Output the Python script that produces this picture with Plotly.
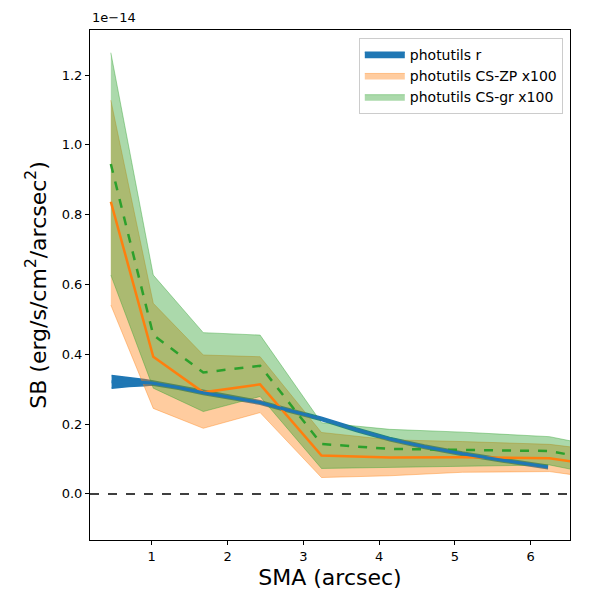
import plotly.graph_objects as go

# surface brightness profiles, in units of 1e-14 erg/s/cm^2/arcsec^2
sma_r = [0.47, 0.7, 0.9, 1.0, 1.35, 1.68, 2.05, 2.43, 2.73, 3.24, 3.7, 4.14, 4.6, 5.1, 5.65, 6.23]
sb_r = [0.321, 0.321, 0.319, 0.318, 0.305, 0.290, 0.276, 0.262, 0.244, 0.215, 0.184, 0.157, 0.135, 0.115, 0.096, 0.077]
err_r = [0.018, 0.013, 0.009, 0.006, 0.005, 0.005, 0.005, 0.005, 0.005, 0.005, 0.005, 0.005, 0.005, 0.005, 0.005, 0.005]

sma_cs = [0.46, 1.02, 1.68, 2.43, 3.24, 4.14, 5.1, 6.25, 7.35]

zp_mid = [0.837, 0.393, 0.291, 0.314, 0.110, 0.104, 0.105, 0.102, 0.069]
zp_hi = [1.128, 0.546, 0.398, 0.393, 0.176, 0.155, 0.150, 0.142, 0.113]
zp_lo = [0.541, 0.245, 0.188, 0.233, 0.047, 0.052, 0.062, 0.064, 0.031]

gr_mid = [0.945, 0.455, 0.348, 0.367, 0.143, 0.129, 0.126, 0.123, 0.078]
gr_hi = [1.264, 0.627, 0.462, 0.455, 0.204, 0.185, 0.177, 0.164, 0.116]
gr_lo = [0.627, 0.303, 0.236, 0.279, 0.073, 0.076, 0.081, 0.083, 0.035]

names = ['photutils r', 'photutils CS-ZP x100', 'photutils CS-gr x100']

fig = go.Figure()


def band(x, lo, hi, name, fill, edge, w=1):
    fig.add_trace(go.Scatter(x=x, y=lo, mode='lines', line=dict(color=edge, width=w),
                             showlegend=False, hoverinfo='skip'))
    fig.add_trace(go.Scatter(x=x, y=hi, mode='lines', line=dict(color=edge, width=w),
                             fill='tonexty', fillcolor=fill, name=name))


r_lo = [m - e for m, e in zip(sb_r, err_r)]
r_hi = [m + e for m, e in zip(sb_r, err_r)]
band(sma_r, r_lo, r_hi, names[0], '#1f77b4', '#1f77b4', w=1.5)
band(sma_cs, zp_lo, zp_hi, names[1], 'rgba(255,127,14,0.4)', 'rgba(255,127,14,0.4)')
band(sma_cs, gr_lo, gr_hi, names[2], 'rgba(44,160,44,0.4)', 'rgba(44,160,44,0.4)')

fig.add_trace(go.Scatter(x=sma_cs, y=zp_mid, mode='lines', showlegend=False,
                         line=dict(color='#ff7f0e', width=2.5)))
fig.add_trace(go.Scatter(x=sma_cs, y=gr_mid, mode='lines', showlegend=False,
                         line=dict(color='#2ca02c', width=2.5, dash='dash')))
fig.add_trace(go.Scatter(x=sma_r, y=sb_r, mode='lines', showlegend=False,
                         line=dict(color='#1f77b4', width=3)))

fig.add_hline(y=0, line=dict(color='black', width=1.5, dash='dash'))

fig.add_annotation(text='1e\u221214', xref='paper', yref='paper', x=0, y=1.005,
                   xanchor='left', yanchor='bottom', showarrow=False,
                   font=dict(size=13, color='black'))

axis = dict(showline=True, linecolor='black', linewidth=1, mirror=True, ticks='outside',
            ticklen=4, tickcolor='black', showgrid=False, zeroline=False,
            tickfont=dict(size=13, color='black'))

fig.update_layout(
    width=600, height=600,
    margin=dict(l=82, r=38, t=22, b=68),
    plot_bgcolor='white', paper_bgcolor='white',
    font=dict(family='DejaVu Sans', color='black'),
    xaxis=dict(axis, range=[0.185, 6.52], tickvals=[1, 2, 3, 4, 5, 6],
               title=dict(text='SMA (arcsec)', font=dict(size=22), standoff=7)),
    yaxis=dict(axis, range=[-0.132, 1.329], tickvals=[0, 0.2, 0.4, 0.6, 0.8, 1.0, 1.2],
               tickformat='.1f',
               title=dict(text='SB (erg/s/cm<sup>2</sup>/arcsec<sup>2</sup>)', font=dict(size=22),
                          standoff=9)),
    legend=dict(x=0.985, y=0.985, xanchor='right', yanchor='top', bgcolor='rgba(255,255,255,0.8)',
                bordercolor='#cccccc', borderwidth=1, font=dict(size=14), tracegroupgap=0,
                itemwidth=40, traceorder='normal'),
)

fig.write_html('out.html')
